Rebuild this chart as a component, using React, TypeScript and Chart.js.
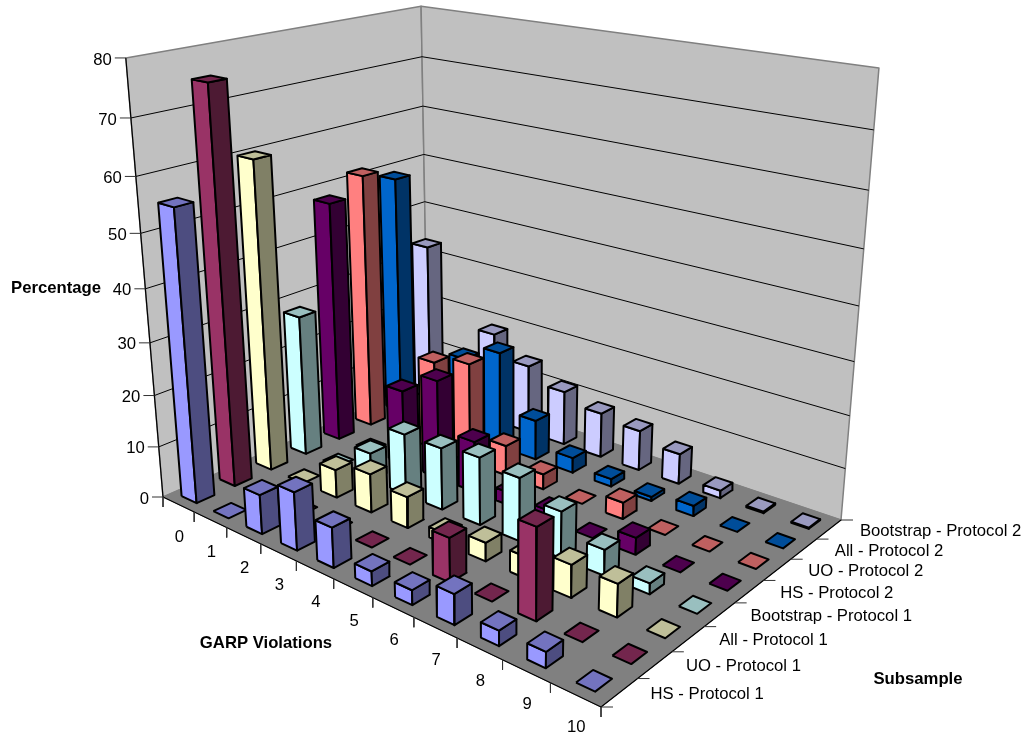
import React, { useEffect, useRef } from "react";
import { Chart, registerables } from "chart.js";

Chart.register(...registerables);

const categories = ["0", "1", "2", "3", "4", "5", "6", "7", "8", "9", "10"];
const seriesNames = [
  "HS - Protocol 1",
  "UO - Protocol 1",
  "All - Protocol 1",
  "Bootstrap - Protocol 1",
  "HS - Protocol 2",
  "UO - Protocol 2",
  "All - Protocol 2",
  "Bootstrap - Protocol 2",
];
const hsP1 = [55.3, 0, 7.5, 11, 7.5, 2.7, 2.7, 5.5, 2.7, 2.8, 0];
const uoP1 = [75, 0, 0, 0, 0, 0, 8.2, 0, 16.5, 0, 0];
const allP1 = [60, 0, 5.5, 7.5, 6, 2, 3.5, 4, 6, 6, 0];
const bootP1 = [28, 0, 5.5, 12, 12, 13, 12, 8.7, 4.8, 2, 0];
const hsP2 = [48, 0, 15, 19.5, 10, 2.5, 2, 0, 3.2, 0, 0];
const uoP2 = [51.5, 0, 18, 20, 6, 3, 0, 3.2, 0, 0, 0];
const allP2 = [49, 0, 16, 19.5, 8, 3, 1.5, 0.8, 2, 0, 0];
const bootP2 = [33, 0, 18.5, 14, 11, 9, 8, 6, 1.5, 0.3, 0.2];
const seriesValues = [hsP1, uoP1, allP1, bootP1, hsP2, uoP2, allP2, bootP2];
const seriesColors = ["#9999FF", "#993366", "#FFFFCC", "#CCFFFF", "#660066", "#FF8080", "#0066CC", "#CCCCFF"];
const valueTicks = [0, 10, 20, 30, 40, 50, 60, 70, 80];

// Camera: floor corners and vanishing point of the vertical axis, in scale units.
const floorA = [163, 497];
const floorB = [601, 707];
const floorC = [841, 520];
const floorD = [428, 381];
const vanish = [504.5, 4529];
const rise = 0.0982 / 80;
const riseU = -0.216;
const riseV = 0.185;
const barFillUNear = 0.48;
const barFillUFar = 0.38;
const barFillV = 0.46;

const det = (p: number[], q: number[]) => p[0] * q[1] - p[1] * q[0];
const dx1 = [floorB[0] - floorC[0], floorB[1] - floorC[1]];
const dx2 = [floorD[0] - floorC[0], floorD[1] - floorC[1]];
const sum = [0, 1].map((k) => floorA[k] - floorB[k] + floorC[k] - floorD[k]);
const gU = det(sum, dx2) / det(dx1, dx2);
const gV = det(dx1, sum) / det(dx1, dx2);

function project(u: number, v: number, h: number) {
  const w = 1 + gU * u + gV * v;
  const fl = [0, 1].map(
    (k) =>
      ((floorB[k] * (1 + gU) - floorA[k]) * u + (floorD[k] * (1 + gV) - floorA[k]) * v + floorA[k]) / w
  );
  const s = (-rise * h) / (1 + riseU * u + riseV * v);
  return { x: (fl[0] + s * vanish[0]) / (1 + s), y: (fl[1] + s * vanish[1]) / (1 + s) };
}

function shade(hex: string, f: number) {
  const n = parseInt(hex.slice(1), 16);
  const c = [(n >> 16) & 255, (n >> 8) & 255, n & 255].map((x) => Math.round(x * f));
  return `rgb(${c[0]},${c[1]},${c[2]})`;
}

function poly(points: { x: number; y: number }[], fill: string | null, stroke: string, width: number) {
  const closed = fill ? [...points, points[0]] : points;
  return {
    data: closed,
    showLine: true,
    fill: fill ? "shape" : false,
    backgroundColor: fill ?? "transparent",
    borderColor: stroke,
    borderWidth: width,
    borderJoinStyle: "round",
    pointRadius: 0,
    pointHoverRadius: 0,
    tension: 0,
    clip: false,
  };
}

function buildDatasets() {
  const top = valueTicks[valueTicks.length - 1];
  const nU = categories.length;
  const nV = seriesNames.length;
  const out: any[] = [];
  out.push(poly([project(0, 0, 0), project(0, 1, 0), project(0, 1, top), project(0, 0, top)], "#C0C0C0", "#808080", 1.5));
  out.push(poly([project(0, 1, 0), project(1, 1, 0), project(1, 1, top), project(0, 1, top)], "#C0C0C0", "#808080", 1.5));
  out.push(poly([project(0, 0, 0), project(1, 0, 0), project(1, 1, 0), project(0, 1, 0)], "#808080", "#808080", 1));
  valueTicks.slice(1, -1).forEach((t) => {
    out.push(poly([project(0, 0, t), project(0, 1, t), project(1, 1, t)], null, "#000000", 1));
  });
  out.push(poly([project(0, 0, 0), project(0, 0, top)], null, "#000000", 1.2));
  out.push(poly([project(0, 0, 0), project(1, 0, 0), project(1, 1, 0)], null, "#000000", 1.2));
  valueTicks.forEach((t) => {
    const p = project(0, 0, t);
    out.push(poly([p, { x: p.x - 11, y: p.y }], null, "#333333", 1));
  });
  for (let i = 0; i <= nU; i++) {
    const p = project(i / nU, 0, 0);
    out.push(poly([p, { x: p.x, y: p.y + 10 }], null, "#333333", 1));
  }
  for (let j = 0; j <= nV; j++) {
    const p = project(1, j / nV, 0);
    out.push(poly([p, { x: p.x + 12, y: p.y }], null, "#333333", 1));
  }
  const dv = (1 - barFillV) / 2;
  for (let j = nV - 1; j >= 0; j--) {
    for (let i = 0; i < nU; i++) {
      const val = seriesValues[j][i];
      const fillU = barFillUNear + ((barFillUFar - barFillUNear) * i) / (nU - 1);
      const du = (1 - fillU) / 2;
      const u0 = (i + du) / nU;
      const u1 = (i + 1 - du) / nU;
      const v0 = (j + dv) / nV;
      const v1 = (j + 1 - dv) / nV;
      const color = seriesColors[j];
      if (val > 0) {
        out.push(poly([project(u0, v0, 0), project(u1, v0, 0), project(u1, v0, val), project(u0, v0, val)], color, "#000000", 2));
        out.push(poly([project(u1, v0, 0), project(u1, v1, 0), project(u1, v1, val), project(u1, v0, val)], shade(color, 0.5), "#000000", 2));
      }
      out.push(poly([project(u0, v0, val), project(u1, v0, val), project(u1, v1, val), project(u0, v1, val)], shade(color, 0.75), "#000000", 2));
    }
  }
  return out.map((d, idx) => ({ ...d, order: out.length - idx }));
}

const FONT = '16.7px "Liberation Sans", Arial, sans-serif';
const BOLD = 'bold 16.7px "Liberation Sans", Arial, sans-serif';

const labelsPlugin = {
  id: "labels3d",
  afterDraw(chart: any) {
    const { ctx, scales } = chart;
    const px = (p: { x: number; y: number }) => ({ x: scales.x.getPixelForValue(p.x), y: scales.y.getPixelForValue(p.y) });
    ctx.save();
    ctx.fillStyle = "#000000";
    ctx.textBaseline = "middle";
    ctx.font = FONT;
    ctx.textAlign = "right";
    valueTicks.forEach((t) => {
      const p = px(project(0, 0, t));
      ctx.fillText(String(t), p.x - 14, p.y + 2);
    });
    ctx.textAlign = "center";
    categories.forEach((c, i) => {
      const p = px(project((i + 0.5) / categories.length, 0, 0));
      ctx.fillText(c, p.x + 1, p.y + 33);
    });
    ctx.textAlign = "left";
    seriesNames.forEach((n, j) => {
      const f = (j + 0.5) / seriesNames.length;
      const p = px(project(1, f, 0));
      ctx.fillText(n, p.x + 31, p.y + 1.5 + f);
    });
    ctx.font = BOLD;
    ctx.textAlign = "left";
    ctx.fillText("Percentage", 11, 288);
    ctx.textAlign = "center";
    ctx.fillText("GARP Violations", 266, 643);
    ctx.fillText("Subsample", 918, 679);
    ctx.restore();
  },
};

export default function App() {
  const ref = useRef<HTMLCanvasElement | null>(null);
  useEffect(() => {
    document.body.style.margin = "0";
    const chart = new Chart(ref.current as HTMLCanvasElement, {
      type: "scatter",
      data: { datasets: buildDatasets() as any },
      options: {
        animation: false,
        responsive: false,
        maintainAspectRatio: false,
        layout: { padding: 0 },
        plugins: { legend: { display: false }, tooltip: { enabled: false } },
        events: [],
        scales: {
          x: { type: "linear", min: 0, max: 1028, display: false },
          y: { type: "linear", min: 0, max: 740, reverse: true, display: false },
        },
      },
      plugins: [labelsPlugin],
    } as any);
    return () => chart.destroy();
  }, []);
  return <canvas ref={ref} width={1028} height={740} style={{ display: "block", background: "#fff" }} />;
}
